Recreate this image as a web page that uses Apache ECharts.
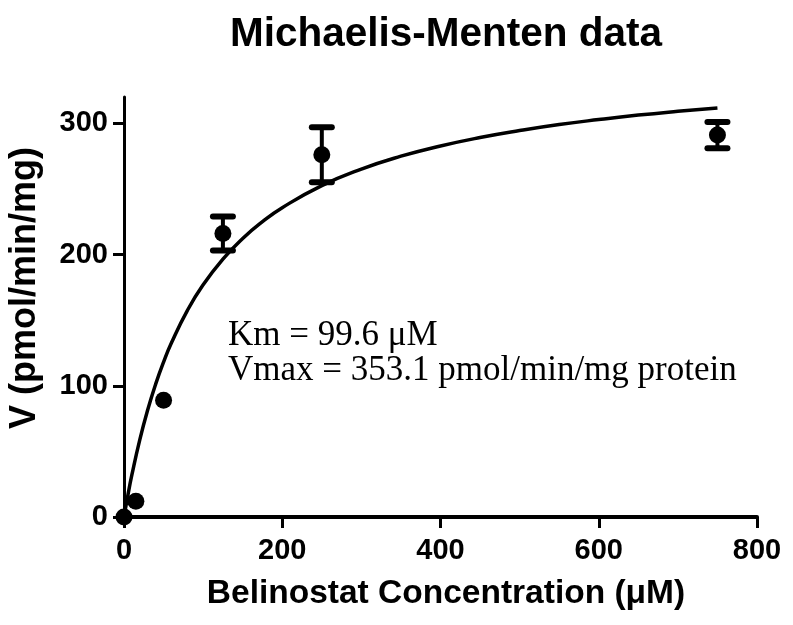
<!DOCTYPE html>
<html>
<head>
<meta charset="utf-8">
<script src="https://cdn.jsdelivr.net/npm/echarts@6/dist/echarts.min.js"></script>
<style>html,body{margin:0;padding:0;background:#fff;}#c{width:793px;height:625px;}</style>
</head>
<body>
<div id="c"></div>
<script>
var concentration = [0, 15, 50, 125, 250, 750];
var velocity = [0, 12, 89, 216, 276, 291];
var errorSEM = [0, 0, 0, 13, 21, 10];
var fitX = [0, 5, 10, 20, 30, 40, 50, 60, 80, 100, 125, 150, 175, 200, 250, 300, 350, 400, 450, 500, 550, 600, 650, 700, 750];
var fitY = [0, 16.9, 32.2, 59.0, 81.7, 101.2, 118.0, 132.7, 157.3, 176.9, 196.5, 212.2, 225.0, 235.7, 252.5, 265.1, 274.9, 282.7, 289.1, 294.4, 299.0, 302.8, 306.2, 309.1, 311.7];
var xTicks = [0, 200, 400, 600, 800];
var yTicks = [0, 100, 200, 300];
var titleText = 'Michaelis-Menten data';
var xName = 'Belinostat Concentration (μM)';
var yName = 'V (pmol/min/mg)';
var annot = ['Km = 99.6 μM', 'Vmax = 353.1 pmol/min/mg protein'];

var chart = echarts.init(document.getElementById('c'), null, {renderer: 'canvas'});
var pts = concentration.map(function (x, i) { return [x, velocity[i]]; });
var errs = concentration.map(function (x, i) { return [x, velocity[i] - errorSEM[i], velocity[i] + errorSEM[i]]; });
var fit = fitX.map(function (x, i) { return [x, fitY[i]]; });
var bold = {fontFamily: 'Liberation Sans, Arial, sans-serif', fontWeight: 'bold', color: '#000'};
var serif = 'Liberation Serif, Times New Roman, serif';

chart.setOption({
  backgroundColor: '#fff',
  animation: false,
  title: {
    text: titleText, left: 441, top: 9, textAlign: 'center',
    textStyle: Object.assign({fontSize: 40.5}, bold)
  },
  grid: {left: 124, right: 36, top: 97, bottom: 108, containLabel: false, outerBoundsMode: 'none'},
  xAxis: {
    type: 'value', min: 0, max: 800, interval: 200,
    name: xName, nameLocation: 'middle', nameGap: 60,
    nameTextStyle: Object.assign({fontSize: 33.5, padding: [0, 0, 0, 11]}, bold),
    axisLine: {show: true, onZero: false, lineStyle: {color: '#000', width: 4}},
    axisTick: {show: true, length: 11, inside: false, lineStyle: {color: '#000', width: 3}, customValues: xTicks},
    axisLabel: Object.assign({fontSize: 29, margin: 19, customValues: xTicks}, bold),
    splitLine: {show: false}
  },
  yAxis: {
    type: 'value', min: 0, max: 320,
    name: yName, nameLocation: 'middle', nameGap: 81,
    nameTextStyle: Object.assign({fontSize: 36, padding: [0, 0, 0, 38]}, bold),
    axisLine: {show: true, onZero: false, lineStyle: {color: '#000', width: 3}},
    axisTick: {show: true, length: 11, lineStyle: {color: '#000', width: 3}, customValues: yTicks},
    axisLabel: Object.assign({fontSize: 29, margin: 16, customValues: yTicks}, bold),
    splitLine: {show: false}
  },
  graphic: [
    {type: 'text', left: 228, top: 318, style: {text: annot[0], fontFamily: serif, fontSize: 35, fill: '#000'}},
    {type: 'text', left: 228, top: 353, style: {text: annot[1], fontFamily: serif, fontSize: 35, fill: '#000'}}
  ],
  series: [
    {
      type: 'line', data: fit, smooth: true, symbol: 'none',
      lineStyle: {color: '#000', width: 3.5}, z: 2
    },
    {
      type: 'custom', data: errs, z: 3,
      renderItem: function (params, api) {
        var x = api.value(0), lo = api.value(1), hi = api.value(2);
        if (hi - lo <= 0) return null;
        var pLo = api.coord([x, lo]), pHi = api.coord([x, hi]);
        var hw = 10;
        var st = {stroke: '#000', lineWidth: 4, lineCap: 'round'};
        var cap = {stroke: '#000', lineWidth: 6, lineCap: 'round'};
        return {type: 'group', children: [
          {type: 'line', shape: {x1: pLo[0], y1: pLo[1], x2: pHi[0], y2: pHi[1]}, style: st},
          {type: 'line', shape: {x1: pLo[0] - hw, y1: pLo[1], x2: pLo[0] + hw, y2: pLo[1]}, style: cap},
          {type: 'line', shape: {x1: pHi[0] - hw, y1: pHi[1], x2: pHi[0] + hw, y2: pHi[1]}, style: cap}
        ]};
      }
    },
    {
      type: 'scatter', data: pts, symbol: 'circle', symbolSize: 17,
      itemStyle: {color: '#000', opacity: 1}, z: 4
    }
  ]
});
</script>
</body>
</html>
